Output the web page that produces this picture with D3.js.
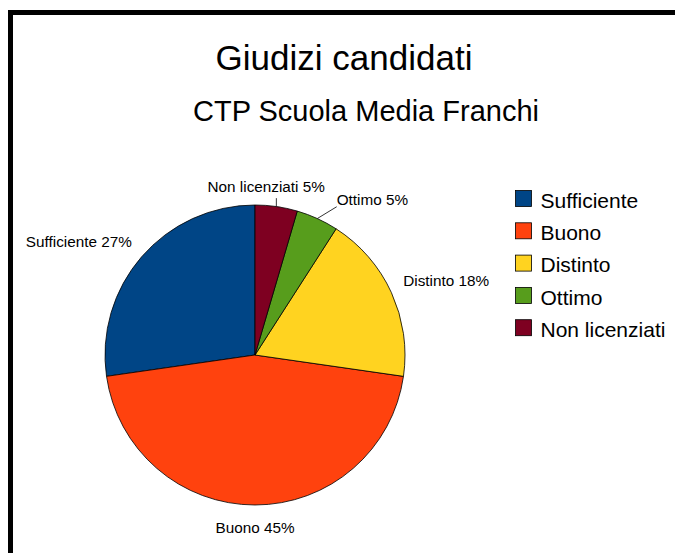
<!DOCTYPE html>
<html><head><meta charset="utf-8">
<script src="https://cdn.jsdelivr.net/npm/d3@7/dist/d3.min.js"></script>
<style>html,body{margin:0;padding:0;background:#fff;}svg{display:block;font-family:"Liberation Sans",Arial,sans-serif;font-variant-ligatures:none;}</style>
</head><body>
<script>
const categories = ["Sufficiente","Buono","Distinto","Ottimo","Non licenziati"];
const values = [6,10,4,1,1];
const colors = ["#004586","#ff420e","#ffd320","#579d1c","#7e0021"];
const title = "Giudizi candidati";
const subtitle = "CTP Scuola Media Franchi";

const W=675,H=553;
const svg=d3.select("body").append("svg").attr("width",W).attr("height",H);
svg.append("rect").attr("x",0).attr("y",0).attr("width",W).attr("height",H).attr("fill","#fff");
// frame
svg.append("rect").attr("x",10.5).attr("y",12.5).attr("width",W+50).attr("height",H+50)
  .attr("fill","none").attr("stroke","#000").attr("stroke-width",5);

svg.append("text").attr("x",344).attr("y",70).attr("text-anchor","middle")
  .attr("font-size",35).text(title);
svg.append("text").attr("x",366).attr("y",121).attr("text-anchor","middle")
  .attr("font-size",29).text(subtitle);

const cx=255, cy=355, R=150;
const total=d3.sum(values);
const pie=d3.pie().sort(null).value(d=>d).startAngle(0).endAngle(-2*Math.PI);
const arcs=pie(values);
const arc=d3.arc().innerRadius(0).outerRadius(R);
const g=svg.append("g").attr("transform",`translate(${cx},${cy})`);
g.selectAll("path").data(arcs).join("path").attr("d",arc)
  .attr("fill",(d,i)=>colors[i]).attr("stroke","#000").attr("stroke-width",0.8).attr("stroke-linejoin","round");

// labels
const fs=15.3, LR=163, asc=14.5, desc=1.5;
const nudge={3:{dx:14,dy:0},4:{dx:-12,dy:0}};
arcs.forEach((d,i)=>{
  const a=(d.startAngle+d.endAngle)/2;
  const s=Math.sin(a), c=Math.cos(a);
  const px=LR*s, py=-LR*c;
  const pct=Math.round(values[i]/total*100);
  let anchor, baseline;
  if(Math.abs(s)<0.2) anchor="middle"; else anchor = s>0?"start":"end";
  if(Math.abs(c)<0.2) baseline=py+ (asc-desc)/2; else baseline = c>0 ? py-desc : py+asc;
  let tx=px, ty=baseline;
  const n=nudge[i];
  if(n){
    tx+=n.dx; ty+=n.dy;
    const ex=R*s, ey=-R*c;
    let lx2, ly2;
    if(anchor==="middle"){ lx2=ex; ly2=ty+6; }
    else { lx2=tx; ly2=ty+desc; }
    g.append("line").attr("x1",ex).attr("y1",ey).attr("x2",lx2).attr("y2",ly2)
      .attr("stroke","#000").attr("stroke-width",0.8);
  }
  g.append("text").attr("x",tx).attr("y",ty).attr("text-anchor",anchor)
    .attr("font-size",fs).text(`${categories[i]} ${pct}%`);
});

// legend
const lg=svg.append("g").attr("transform","translate(515,190)");
const rows=lg.selectAll("g").data(categories).join("g").attr("transform",(d,i)=>`translate(0,${i*32.3})`);
rows.append("rect").attr("x",0.5).attr("y",0.5).attr("width",16).attr("height",16)
  .attr("fill",(d,i)=>colors[i]).attr("stroke","#000").attr("stroke-width",0.8);
rows.append("text").attr("x",25.5).attr("y",17.7).attr("font-size",21).text(d=>d);
</script>
</body></html>
